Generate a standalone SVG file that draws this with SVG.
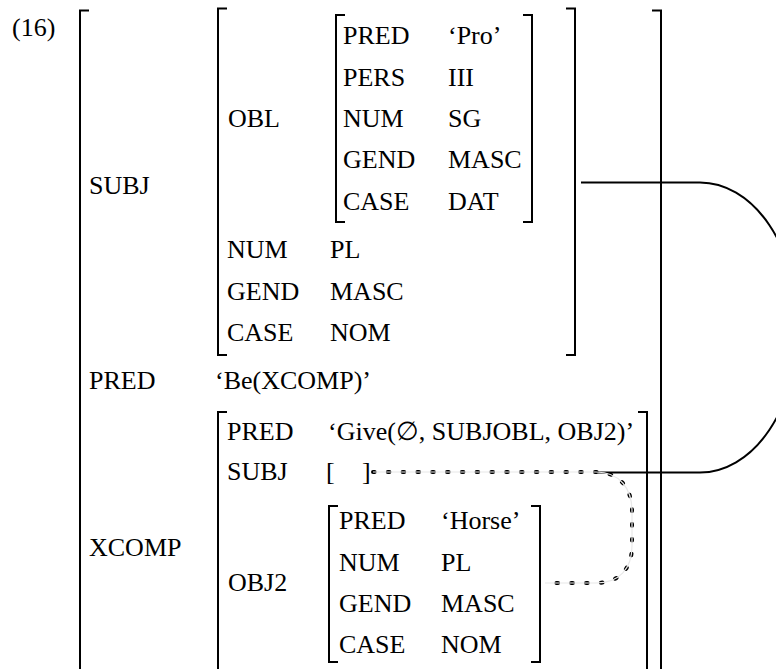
<svg xmlns="http://www.w3.org/2000/svg" xmlns:xlink="http://www.w3.org/1999/xlink" width="776" height="669" viewBox="0 0 776 669">
<style>
  .t text, text { font-family: 'Liberation Serif', 'Times New Roman', Times, 'DejaVu Serif', serif; font-size: 26px; fill: #000; }
  .br { fill: none; stroke: #000; stroke-width: 2; }
  .conn { fill: none; stroke: #000; stroke-width: 2; }
  .dotA { fill: none; stroke: #000; stroke-width: 4; stroke-dasharray: 1.6 13.2; stroke-linecap: round; }
  .dotB { fill: none; stroke: #e8e8e8; stroke-width: 1.2; }
</style>
<defs>
  <path id="dotpath" d="M373,472 H596 C620,472 632,489 632,511 V546 C632,569 619,583 596,583 H545"/>
</defs>
<rect width="776" height="669" fill="#fff"/>
<g class="t" font-family="'Liberation Serif', 'Times New Roman', Times, 'DejaVu Serif', serif" font-size="26">
<text x="12" y="36">(16)</text>

<g id="f-outer">
  <path class="br" d="M89,10.5 H80 V680"/>
  <path class="br" d="M652,10.5 H661 V680"/>
  <text x="89" y="194">SUBJ</text>
  <text x="89" y="389">PRED</text>
  <text x="215" y="389">‘Be(XCOMP)’</text>
  <text x="89" y="556">XCOMP</text>
</g>

<g id="f-subj">
  <path class="br" d="M227,8.5 H218 V355 H227"/>
  <path class="br" d="M566,8.5 H575 V355 H566"/>
  <text x="228" y="127">OBL</text>
  <text x="227" y="258">NUM</text><text x="330" y="258">PL</text>
  <text x="227" y="300">GEND</text><text x="330" y="300">MASC</text>
  <text x="227" y="341">CASE</text><text x="330" y="341">NOM</text>
</g>

<g id="f-obl">
  <path class="br" d="M345,15 H336 V222 H345"/>
  <path class="br" d="M523,15 H532 V222 H523"/>
  <text x="343" y="44">PRED</text><text x="448" y="44">‘Pro’</text>
  <text x="343" y="86">PERS</text><text x="448" y="86">III</text>
  <text x="343" y="127">NUM</text><text x="448" y="127">SG</text>
  <text x="343" y="168">GEND</text><text x="448" y="168">MASC</text>
  <text x="343" y="210">CASE</text><text x="448" y="210">DAT</text>
</g>

<g id="f-xcomp">
  <path class="br" d="M227,412 H218 V680"/>
  <path class="br" d="M638,412 H647 V680"/>
  <text x="227" y="440">PRED</text><text x="328" y="440">‘Give(∅, SUBJOBL, OBJ2)’</text>
  <text x="227" y="480">SUBJ</text>
  <text x="326" y="480">[</text><text x="362" y="480">]</text>
  <text x="228" y="591">OBJ2</text>
</g>

<g id="f-obj2">
  <path class="br" d="M338,506 H329 V662 H338"/>
  <path class="br" d="M531,506 H540 V662 H531"/>
  <text x="339" y="529">PRED</text><text x="441" y="529">‘Horse’</text>
  <text x="339" y="571">NUM</text><text x="441" y="571">PL</text>
  <text x="339" y="612">GEND</text><text x="441" y="612">MASC</text>
  <text x="339" y="653">CASE</text><text x="441" y="653">NOM</text>
</g>
</g>

<g id="connectors">
  <path class="conn" d="M581,182.5 H700 A98,145 0 0 1 700,472.5 H598"/>
  <use xlink:href="#dotpath" class="dotA"/>
  <use xlink:href="#dotpath" class="dotB"/>
</g>
</svg>
